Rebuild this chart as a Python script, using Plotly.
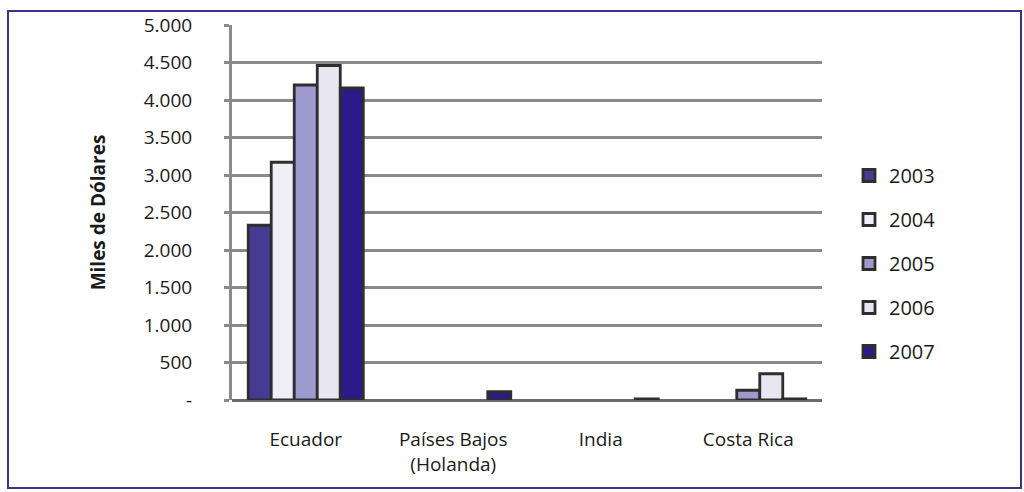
import plotly.graph_objects as go

categories = ["Ecuador", "Países Bajos<br>(Holanda)", "India", "Costa Rica"]
years = ["2003", "2004", "2005", "2006", "2007"]
v2003 = [2330, 0, 0, 0]
v2004 = [3170, 0, 0, 0]
v2005 = [4200, 0, 0, 130]
v2006 = [4460, 0, 0, 350]
v2007 = [4160, 110, 15, 15]
series = [v2003, v2004, v2005, v2006, v2007]
colors = ["#463a92", "#f0eff7", "#9e99cf", "#e8e7f1", "#2c1a8a"]
tick_vals = [0, 500, 1000, 1500, 2000, 2500, 3000, 3500, 4000, 4500, 5000]
tick_text = ["-", "500", "1.000", "1.500", "2.000", "2.500", "3.000", "3.500", "4.000", "4.500", "5.000"]

FONT = "Open Sans"
fig = go.Figure()
for i, (yr, vals, col) in enumerate(zip(years, series, colors)):
    fig.add_trace(go.Bar(
        x=categories, y=vals, name=yr, legendgroup=yr,
        marker=dict(color=col, line=dict(color="#2e2e2e",
                                         width=[2.8 if v > 0 else 0 for v in vals])),
    ))

W0, W1 = 232, 822
T0, B0 = 25, 400
def px_x(p):
    return (p - W0) / (W1 - W0)
def px_y(p):
    return (B0 - p) / (B0 - T0)

fig.add_shape(type="rect", xref="paper", yref="paper",
              x0=px_x(8), x1=px_x(1021), y0=px_y(488), y1=px_y(11),
              line=dict(color="#3b3486", width=2), fillcolor="rgba(0,0,0,0)", layer="below")

fig.update_layout(
    width=1024, height=492,
    margin=dict(l=W0, r=1024 - W1, t=T0, b=492 - B0),
    paper_bgcolor="white", plot_bgcolor="white",
    barmode="group", bargap=0.22, bargroupgap=0.0,
    font=dict(family=FONT, size=19, color="#1a1a1a"),
    showlegend=True,
    legend=dict(x=px_x(849), y=px_y(156), xanchor="left", yanchor="top",
                font=dict(family=FONT, size=20, color="#1a1a1a"),
                tracegroupgap=15, bgcolor="rgba(0,0,0,0)"),
    xaxis=dict(showgrid=False, showline=False, ticks="", ticklabelstandoff=26,
               tickfont=dict(family=FONT, size=19), zeroline=False),
    yaxis=dict(range=[0, 5000], tickvals=tick_vals, ticktext=tick_text,
               showgrid=True, gridcolor="#8a8a8a", gridwidth=3,
               showline=True, linecolor="#8a8a8a", linewidth=3,
               ticks="outside", ticklen=5, tickwidth=3, tickcolor="#8a8a8a",
               tickfont=dict(family=FONT, size=19), ticklabelstandoff=28,
               zeroline=True, zerolinecolor="#6a6a6a", zerolinewidth=3,
               title=dict(text="<b>Miles de Dólares</b>", font=dict(family=FONT, size=19),
                          standoff=34)),
)

fig.write_html("out.html", config={"displayModeBar": False},
               post_script="document.body.style.margin='0';document.body.style.overflow='hidden';")
